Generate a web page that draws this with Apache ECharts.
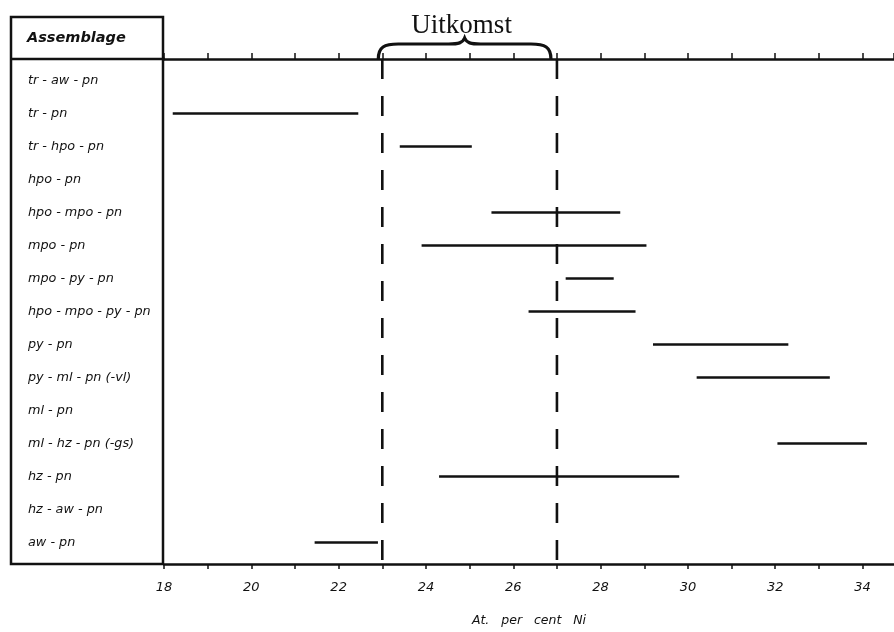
<!DOCTYPE html>
<html>
<head>
<meta charset="utf-8">
<script src="https://cdn.jsdelivr.net/npm/echarts@6/dist/echarts.min.js"></script>
<style>
  html, body { margin: 0; padding: 0; background: #ffffff; }
  #chart { width: 894px; height: 632px; }
</style>
</head>
<body>
<div id="chart"></div>
<script>
// Mineral assemblages and their observed Ni ranges (at. per cent); null = no range drawn
const assemblages = [
  'tr - aw - pn', 'tr - pn', 'tr - hpo - pn', 'hpo - pn', 'hpo - mpo - pn',
  'mpo - pn', 'mpo - py - pn', 'hpo - mpo - py - pn', 'py - pn', 'py - ml - pn (-vl)',
  'ml - pn', 'ml - hz - pn (-gs)', 'hz - pn', 'hz - aw - pn', 'aw - pn'
];
const niLow  = [null, 18.2, 23.4, null, 25.5, 23.9, 27.2, 26.35, 29.2, 30.2, null, 32.05, 24.3, null, 21.45];
const niHigh = [null, 22.45, 25.05, null, 28.45, 29.05, 28.3, 28.8, 32.3, 33.25, null, 34.1, 29.8, null, 22.9];

// Labelled ticks on the Ni axis
const niTickLabels = [18, 20, 22, 24, 26, 28, 30, 32, 34];

// Bracketed outcome interval
const outcomeRange = [23, 27];
const outcomeLabel = 'Uitkomst';

const INK = '#111111';
const AXIS_SHIFT = 5; // x axes sit this far outside the category band area

const rangeData = [];
assemblages.forEach((name, i) => {
  if (niLow[i] != null && niHigh[i] != null) rangeData.push([i, niLow[i], niHigh[i]]);
});

const chart = echarts.init(document.getElementById('chart'), null, { renderer: 'canvas' });

const option = {
  backgroundColor: '#ffffff',
  animation: false,
  title: {
    text: 'Assemblage',
    left: 22,
    top: 26,
    textStyle: {
      fontFamily: 'DejaVu Sans',
      fontStyle: 'italic',
      fontWeight: 'bold',
      fontSize: 14.5,
      color: INK
    }
  },
  grid: { left: 164, right: 0, top: 64, bottom: 73, containLabel: false },
  xAxis: [
    {
      type: 'value',
      position: 'bottom',
      offset: AXIS_SHIFT,
      min: 18,
      max: 34.72,
      interval: 1,
      splitLine: { show: false },
      axisLine: { show: true, lineStyle: { color: INK, width: 2.5 } },
      axisTick: { show: true, length: 5, lineStyle: { color: INK, width: 1.5 } },
      axisLabel: {
        margin: 17,
        showMaxLabel: false,
        color: INK,
        fontFamily: 'DejaVu Sans',
        fontStyle: 'italic',
        fontSize: 13,
        formatter: v => (niTickLabels.indexOf(v) >= 0 ? String(v) : '')
      },
      name: 'At.   per   cent   Ni',
      nameLocation: 'middle',
      nameGap: 50,
      nameTextStyle: {
        color: INK,
        fontFamily: 'DejaVu Sans',
        fontStyle: 'italic',
        fontSize: 12.5
      }
    },
    {
      type: 'value',
      position: 'top',
      offset: AXIS_SHIFT,
      min: 18,
      max: 34.72,
      interval: 1,
      splitLine: { show: false },
      axisLine: { show: true, lineStyle: { color: INK, width: 2.5 } },
      axisTick: { show: true, length: 6, lineStyle: { color: INK, width: 1.5 } },
      axisLabel: { show: false }
    }
  ],
  yAxis: {
    type: 'category',
    inverse: true,
    data: assemblages,
    axisLine: { show: false },
    axisTick: { show: false },
    splitLine: { show: false },
    axisLabel: {
      align: 'left',
      margin: 136,
      color: INK,
      fontFamily: 'DejaVu Sans',
      fontStyle: 'italic',
      fontSize: 12.8
    }
  },
  graphic: [
    {
      type: 'rect',
      shape: { x: 11, y: 17, width: 152, height: 547 },
      style: { fill: 'none', stroke: INK, lineWidth: 2.5 },
      silent: true
    },
    {
      type: 'line',
      shape: { x1: 11, y1: 59, x2: 165, y2: 59 },
      style: { stroke: INK, lineWidth: 2.5 },
      silent: true
    }
  ],
  series: [
    {
      // Ni range of each assemblage
      type: 'custom',
      name: 'ranges',
      clip: false,
      encode: { x: [1, 2], y: 0 },
      data: rangeData,
      renderItem: (params, api) => {
        const a = api.coord([api.value(1), api.value(0)]);
        const b = api.coord([api.value(2), api.value(0)]);
        return {
          type: 'line',
          shape: { x1: a[0], y1: a[1], x2: b[0], y2: b[1] },
          style: { stroke: INK, lineWidth: 2.6 }
        };
      }
    },
    {
      // Dashed boundaries of the outcome interval
      type: 'custom',
      name: 'bounds',
      clip: false,
      encode: { x: 0 },
      data: outcomeRange.map(v => [v]),
      renderItem: (params, api) => {
        const x = api.coord([api.value(0), 0])[0];
        const cs = params.coordSys;
        return {
          type: 'line',
          shape: { x1: x, y1: cs.y - AXIS_SHIFT, x2: x, y2: cs.y + cs.height + AXIS_SHIFT },
          style: { stroke: INK, lineWidth: 2.6, lineDash: [20, 17] }
        };
      }
    },
    {
      // Curly brace with its caption over the outcome interval
      type: 'custom',
      name: 'brace',
      clip: false,
      encode: { x: [0, 1] },
      data: [[outcomeRange[0], outcomeRange[1]]],
      renderItem: (params, api) => {
        const x1 = api.coord([api.value(0), 0])[0] - 4;
        const x2 = api.coord([api.value(1), 0])[0] - 6;
        const xm = (x1 + x2) / 2;
        const yb = params.coordSys.y - AXIS_SHIFT;
        const yt = yb - 15;
        const yc = yb - 21;
        const d = [
          'M', x1, yb,
          'C', x1, yt + 3, x1 + 6, yt, x1 + 20, yt,
          'L', xm - 16, yt,
          'C', xm - 6, yt, xm - 2, yt - 1, xm, yc,
          'C', xm + 2, yt - 1, xm + 6, yt, xm + 16, yt,
          'L', x2 - 20, yt,
          'C', x2 - 6, yt, x2, yt + 3, x2, yb
        ].join(' ');
        return {
          type: 'group',
          children: [
            {
              type: 'path',
              shape: { pathData: d },
              style: { fill: 'none', stroke: INK, lineWidth: 3.2 }
            },
            {
              type: 'text',
              style: {
                text: outcomeLabel,
                x: xm - 3,
                y: yc + 1,
                align: 'center',
                verticalAlign: 'bottom',
                fill: INK,
                font: '27px "Liberation Serif"'
              }
            }
          ]
        };
      }
    }
  ]
};

chart.setOption(option);
</script>
</body>
</html>
